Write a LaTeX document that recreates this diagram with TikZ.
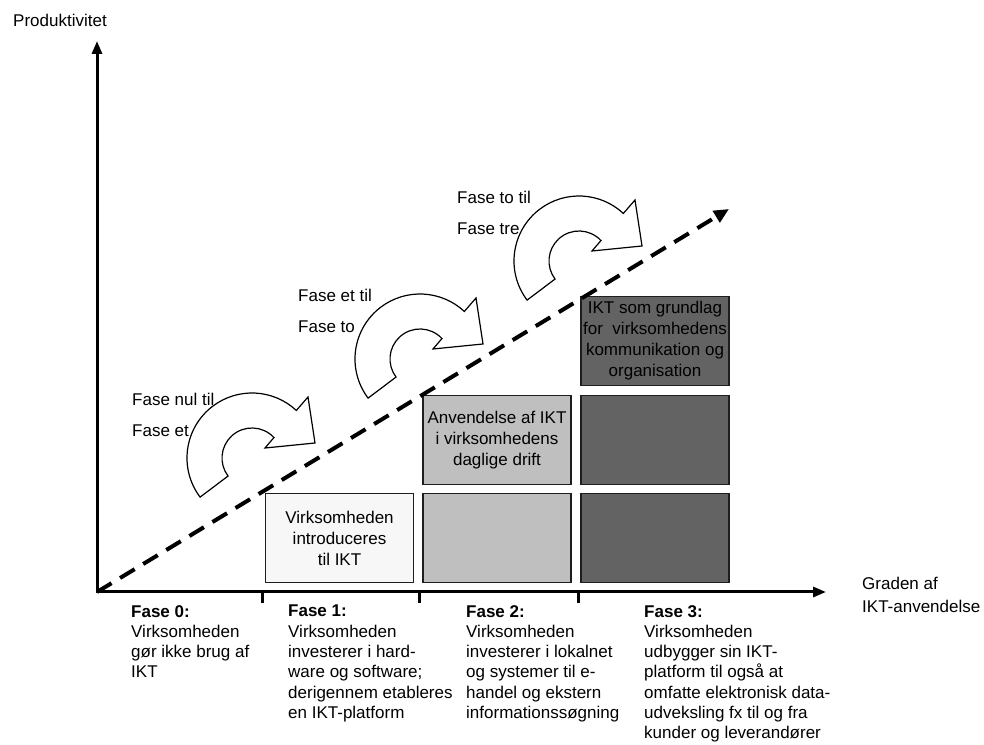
\documentclass[tikz,border=0pt]{standalone}
\usepackage{fontspec}
\setmainfont{Liberation Sans}
\usepackage{xcolor}
\usetikzlibrary{arrows.meta}

\definecolor{boxline}{HTML}{1E1E1E}
\definecolor{boxlight}{HTML}{F7F7F7}
\definecolor{boxmid}{HTML}{BFBFBF}
\definecolor{boxdark}{HTML}{636363}

\newcommand{\phasefont}{\fontsize{17}{20.3}\selectfont}
\newcommand{\boxfont}{\fontsize{17}{21}\selectfont}
\newcommand{\stepfont}{\fontsize{17}{31}\selectfont}

\tikzset{
  axis/.style={line width=3pt, {Triangle[length=13pt,width=10pt]}-{Triangle[length=13pt,width=10pt]}},
  trend/.style={line width=4pt, dash pattern=on 17pt off 10pt, -{Triangle[length=15pt,width=13pt]}},
  fasebox/.style={draw=boxline, line width=1.3pt, minimum width=148pt, minimum height=89pt,
    inner sep=0pt, align=center, font=\boxfont},
  fasetext/.style={anchor=north west, inner sep=0pt, align=left, font=\phasefont},
  steplabel/.style={anchor=north west, inner sep=0pt, align=left, font=\stepfont},
  turnarrow/.pic={
    \draw[fill=white, line width=1.2pt]
      (217:65) arc[start angle=217, end angle=47, radius=65]
      -- (56,61) -- (63,15) -- (13,10)
      -- (43:30) arc[start angle=43, end angle=217, radius=30]
      -- cycle;
  }
}

\begin{document}
\begin{tikzpicture}[x=1pt, y=1pt]
\useasboundingbox (0,0) rectangle (984,744);
% axes
\coordinate (O) at (97,152);
\coordinate (ytop) at (97,703);
\coordinate (xend) at (826,152);
\draw[axis] (ytop) -- (O) -- (xend);
\foreach \x in {262,419,578}
  \draw[line width=3pt] (\x,152) -- (\x,141);
\node[steplabel, font=\phasefont] (ylabel) at (13,730) {Produktivitet};
\node[steplabel, font=\fontsize{17}{23}\selectfont] (xlabel) at (862,167) {Graden af\\IKT-anvendelse};
% phase 1
\node[fasebox, fill=boxlight] (b1low) at (339.5,206) {Virksomheden\\introduceres\\til IKT};
% phase 2
\node[fasebox, fill=boxmid] (b2low) at (497,206) {};
\node[fasebox, fill=boxmid] (b2mid) at (497,304) {Anvendelse af IKT\\i virksomhedens\\daglige drift};
% phase 3
\node[fasebox, fill=boxdark] (b3low) at (655,206) {};
\node[fasebox, fill=boxdark] (b3mid) at (655,304) {};
\node[fasebox, fill=boxdark] (b3top) at (655,403) {IKT som grundlag\\for\ \ virksomhedens\\kommunikation og\\organisation};
% trend line
\coordinate (tend) at (729,535);
\draw[trend] (O) -- (tend);
% transitions
\pic (turnA) at (252,286) {turnarrow};
\pic (turnB) at (420,385) {turnarrow};
\pic (turnC) at (579,483) {turnarrow};
\node[steplabel] (stepA) at (132,351) {Fase nul til\\Fase et};
\node[steplabel] (stepB) at (298,455) {Fase et til\\Fase to};
\node[steplabel] (stepC) at (457,553) {Fase to til\\Fase tre};
% phase texts
\node[fasetext] (fase0) at (131,139) {\textbf{Fase 0:}\\Virksomheden\\gør ikke brug af\\IKT};
\node[fasetext] (fase1) at (288,139) {\textbf{Fase 1:}\\Virksomheden\\investerer i hard-\\ware og software;\\derigennem etableres\\en IKT-platform};
\node[fasetext] (fase2) at (466,139) {\textbf{Fase 2:}\\Virksomheden\\investerer i lokalnet\\og systemer til e-\\handel og ekstern\\informationssøgning};
\node[fasetext] (fase3) at (644,139) {\textbf{Fase 3:}\\Virksomheden\\udbygger sin IKT-\\platform til også at\\omfatte elektronisk data-\\udveksling fx til og fra\\kunder og leverandører};
\end{tikzpicture}
\end{document}
